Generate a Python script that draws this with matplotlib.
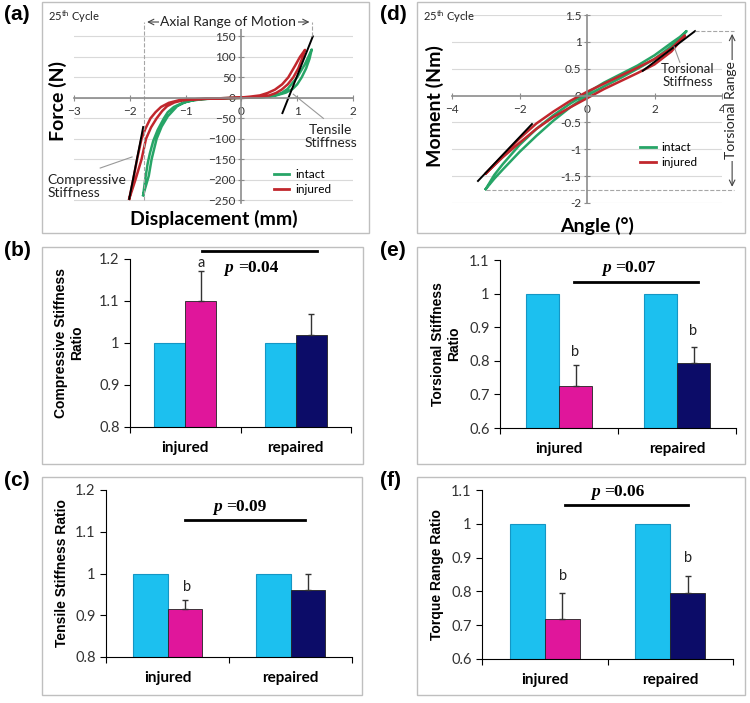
import matplotlib
matplotlib.use("Agg")
import matplotlib.pyplot as plt
from matplotlib.lines import Line2D
from matplotlib.patches import Rectangle

# ---- (a) force vs displacement, 25th cycle ----
disp_intact = [-1.76, -1.66, -1.61, -1.52, -1.43, -1.32, -1.15, -1.0, -0.85, -0.6, -0.3, 0.0,
               0.3, 0.5, 0.65, 0.8, 0.92, 1.0, 1.08, 1.16, 1.22, 1.26,
               1.21, 1.13, 1.05, 1.0, 0.9, 0.83, 0.72, 0.6, 0.4, 0.0, -0.4, -0.7, -0.9,
               -1.05, -1.21, -1.32, -1.39, -1.5, -1.58, -1.64, -1.68, -1.72, -1.76]
force_intact = [-237, -190, -150, -100, -70, -45, -20, -10, -5, -2, -1, 0,
                1, 3, 7, 13, 22, 33, 50, 72, 95, 118,
                103, 80, 62, 50, 34, 22, 12, 6, 2, 0.5, -1, -3, -7,
                -12, -22, -35, -50, -78, -105, -135, -160, -195, -237]
disp_injured = [-2.01, -1.9, -1.79, -1.71, -1.62, -1.52, -1.42, -1.33, -1.2, -1.05, -0.8, -0.4, 0.0,
                0.3, 0.5, 0.62, 0.72, 0.83, 0.93, 1.02, 1.1, 1.14,
                1.05, 0.96, 0.84, 0.73, 0.6, 0.47, 0.33, 0.15, 0.0, -0.4, -0.8, -1.1,
                -1.3, -1.44, -1.54, -1.63, -1.72, -1.79, -1.87, -1.94, -2.01]
force_injured = [-246, -200, -150, -100, -72, -50, -32, -20, -11, -6, -3, -1, 0,
                 2, 6, 12, 20, 33, 50, 72, 100, 117,
                 100, 78, 50, 33, 20, 12, 6, 3, 1, -1, -3, -5,
                 -12, -22, -35, -50, -75, -100, -150, -200, -246]
comp_tangent_x = [-2.01, -1.76]
comp_tangent_y = [-246, -71]
tens_tangent_x = [0.735, 1.28]
tens_tangent_y = [-37, 150]
axial_rom = [-1.74, 1.27]

# ---- (d) moment vs angle, 25th cycle ----
angle_intact = [-3.0, -2.75, -2.5, -2.0, -1.5, -1.0, -0.5, 0.0, 0.5, 1.0, 1.5, 2.0, 2.5, 2.75, 2.95,
                2.75, 2.5, 2.0, 1.5, 1.0, 0.5, 0.0, -0.5, -1.0, -1.5, -2.0, -2.5, -2.75, -3.0]
moment_intact = [-1.74, -1.55, -1.38, -1.05, -0.75, -0.47, -0.22, 0.0, 0.17, 0.33, 0.5, 0.68, 0.92, 1.05, 1.2,
                 1.09, 0.98, 0.75, 0.56, 0.4, 0.24, 0.05, -0.15, -0.37, -0.62, -0.92, -1.28, -1.48, -1.74]
angle_injured = [-3.0, -2.5, -2.0, -1.5, -1.0, -0.5, 0.0, 0.5, 1.0, 1.5, 2.0, 2.5, 2.9,
                 2.5, 2.0, 1.5, 1.0, 0.5, 0.0, -0.5, -1.0, -1.5, -2.0, -2.5, -3.0]
moment_injured = [-1.45, -1.12, -0.8, -0.52, -0.3, -0.1, 0.07, 0.22, 0.37, 0.52, 0.68, 0.88, 1.12,
                  0.82, 0.58, 0.42, 0.27, 0.12, -0.05, -0.22, -0.4, -0.62, -0.88, -1.15, -1.45]
neg_tangent_x = [-3.23, -1.63]
neg_tangent_y = [-1.59, -0.53]
pos_tangent_x = [1.65, 3.2]
pos_tangent_y = [0.46, 1.2]
torque_range = [-1.75, 1.2]

# ---- bar panels (b), (e), (c), (f) ----
groups = ["injured", "repaired"]
baseline = [1.0, 1.0]
comp_ratio = [1.101, 1.019]
comp_err = [0.07, 0.051]
tors_ratio = [0.725, 0.794]
tors_err = [0.062, 0.046]
tens_ratio = [0.914, 0.96]
tens_err = [0.022, 0.04]
torq_ratio = [0.717, 0.794]
torq_err = [0.077, 0.052]

GREEN = "#27A567"
RED = "#C1272D"
CYAN = "#1CC0EF"
MAGENTA = "#E0169B"
NAVY = "#0C0C68"
GRID = "#D9D9D9"
AXIS = "#8C8C8C"

plt.rcParams["font.family"] = ["Lato", "DejaVu Sans"]
plt.rcParams["mathtext.fontset"] = "custom"
plt.rcParams["mathtext.rm"] = "Lato"

W, H = 750, 703
fig = plt.figure(figsize=(W / 100, H / 100), dpi=100)


def px_rect(left, top, right, bottom):
    return [left / W, 1 - bottom / H, (right - left) / W, (bottom - top) / H]


def fig_text(x, y, s, **kw):
    fig.text(x / W, 1 - y / H, s, **kw)


# grey frames around the six panels
for l, t, r, b in [(42, 2, 369, 233), (417, 2, 745, 233), (42, 247, 363, 464),
                   (417, 247, 745, 464), (42, 477, 362, 695), (417, 477, 745, 695)]:
    fig.add_artist(Rectangle((l / W, 1 - b / H), (r - l) / W, (b - t) / H,
                             transform=fig.transFigure, fill=False, ec="#BFBFBF", lw=1))

for lab, x, y in [("(a)", 4, 14), ("(d)", 380, 14), ("(b)", 4, 250),
                  ("(e)", 380, 250), ("(c)", 4, 480), ("(f)", 380, 480)]:
    fig_text(x, y, lab, family="Liberation Sans", weight="bold", fontsize=15, va="center")


def style_curve_axes(ax):
    ax.spines["left"].set_position(("data", 0))
    ax.spines["bottom"].set_position(("data", 0))
    ax.spines["top"].set_visible(False)
    ax.spines["right"].set_visible(False)
    for s in ("left", "bottom"):
        ax.spines[s].set_color(AXIS)
        ax.spines[s].set_linewidth(1.2)
    ax.tick_params(direction="inout", length=4, color=AXIS, labelsize=8.5,
                   labelcolor="#333333", pad=2)
    ax.tick_params(axis="x", pad=4)
    ax.set_facecolor("none")
    ax.set_axisbelow(True)


# ---------------- (a) ----------------
ax = fig.add_axes(px_rect(74, 22, 353, 202.5))
ax.set_xlim(-3, 2)
ax.set_ylim(-255, 185)
style_curve_axes(ax)
ax.set_xticks([-3, -2, -1, 0, 1, 2])
ax.set_yticks(range(-250, 151, 50))
for yv in range(-250, 151, 50):
    ax.axhline(yv, color=GRID, lw=0.8, zorder=0)
ax.plot(disp_intact, force_intact, color=GREEN, lw=1.8)
ax.plot(disp_injured, force_injured, color=RED, lw=1.8)
ax.plot(comp_tangent_x, comp_tangent_y, color="black", lw=1.4)
ax.plot(tens_tangent_x, tens_tangent_y, color="black", lw=1.4)
ax.plot([axial_rom[0]] * 2, [-250, 185], ls="--", color="#A6A6A6", lw=0.8, clip_on=False)
ax.plot([axial_rom[1]] * 2, [150, 185], ls="--", color="#A6A6A6", lw=0.8, clip_on=False)
ax.annotate("", xy=(axial_rom[0], 185), xytext=(axial_rom[1], 185),
            arrowprops=dict(arrowstyle="<->", color="#444444", lw=0.8), annotation_clip=False)
ax.text(sum(axial_rom) / 2, 185, "Axial Range of Motion", ha="center", va="center",
        fontsize=10, color="#222222", bbox=dict(fc="white", ec="none", pad=1))
ax.plot([-2.53, -1.96], [-171, -144], color="#999999", lw=0.8, clip_on=False)
ax.text(-3.48, -215, "Compressive\nStiffness", fontsize=10, va="center", ha="left",
        linespacing=1.1, color="#222222")
ax.plot([0.93, 1.47], [9, -50], color="#999999", lw=0.8)
ax.text(1.6, -93, "Tensile\nStiffness", fontsize=10, va="center", ha="center",
        linespacing=1.1, color="#222222")
ax.legend([Line2D([], [], color=GREEN, lw=2), Line2D([], [], color=RED, lw=2)],
          ["intact", "injured"], loc="upper left", bbox_to_anchor=(0.7, 0.21),
          frameon=False, fontsize=8.5, handlelength=1.3, labelspacing=0.35,
          handletextpad=0.5, borderaxespad=0)
fig_text(48, 17, r"25$^{\rm th}$ Cycle", fontsize=8, va="center", color="#222222")
fig_text(58, 101, "Force (N)", rotation=90, weight="bold", fontsize=14, ha="center", va="center")
fig_text(214, 219, "Displacement (mm)", weight="bold", fontsize=14, ha="center", va="center")

# ---------------- (d) ----------------
ax = fig.add_axes(px_rect(452, 15, 722, 203))
ax.set_xlim(-4, 4)
ax.set_ylim(-2, 1.5)
style_curve_axes(ax)
ax.set_xticks([-4, -2, 0, 2, 4])
ax.set_yticks([-2, -1.5, -1, -0.5, 0, 0.5, 1, 1.5])
ax.set_yticklabels(["-2", "-1.5", "-1", "-0.5", "0", "0.5", "1", "1.5"])
for yv in [-2, -1.5, -1, -0.5, 0.5, 1, 1.5]:
    ax.axhline(yv, color=GRID, lw=0.8, zorder=0)
ax.plot(angle_intact, moment_intact, color=GREEN, lw=1.8)
ax.plot(angle_injured, moment_injured, color=RED, lw=1.8)
ax.plot(neg_tangent_x, neg_tangent_y, color="black", lw=1.4)
ax.plot(pos_tangent_x, pos_tangent_y, color="black", lw=1.4)
ax.plot([3.2, 4.35], [torque_range[1]] * 2, ls="--", color="#A6A6A6", lw=0.8, clip_on=False)
ax.plot([-3.0, 4.35], [torque_range[0]] * 2, ls="--", color="#A6A6A6", lw=0.8, clip_on=False)
ax.annotate("", xy=(4.3, torque_range[0]), xytext=(4.3, torque_range[1]),
            arrowprops=dict(arrowstyle="<->", color="#444444", lw=0.8), annotation_clip=False)
ax.text(4.27, sum(torque_range) / 2, "Torsional Range", rotation=90, ha="center", va="center",
        fontsize=10, color="#222222", bbox=dict(fc="white", ec="none", pad=1))
ax.plot([2.75, 2.58], [0.62, 0.91], color="#999999", lw=0.8)
ax.text(2.98, 0.37, "Torsional\nStiffness", fontsize=9.5, va="center", ha="center",
        linespacing=1.1, color="#222222")
ax.legend([Line2D([], [], color=GREEN, lw=2), Line2D([], [], color=RED, lw=2)],
          ["intact", "injured"], loc="upper left", bbox_to_anchor=(0.68, 0.35),
          frameon=False, fontsize=8.5, handlelength=1.3, labelspacing=0.35,
          handletextpad=0.5, borderaxespad=0)
fig_text(423, 17, r"25$^{\rm th}$ Cycle", fontsize=8, va="center", color="#222222")
fig_text(435, 106, "Moment (Nm)", rotation=90, weight="bold", fontsize=14, ha="center", va="center")
fig_text(597, 226, "Angle (°)", weight="bold", fontsize=14, ha="center", va="center")


# ---------------- bar panels ----------------
def bar_panel(rect, ratio, err, ylim, ylabel, ylabel_x, p_val, p_line, p_y, letters):
    ax = fig.add_axes(px_rect(*rect))
    x = [0, 1]
    w = 0.28
    ax.bar([i - w / 2 for i in x], baseline, w, color=CYAN, ec="#1596C4", lw=0.8)
    ax.bar([i + w / 2 for i in x], ratio, w, color=[MAGENTA, NAVY], ec="#222222", lw=0.6)
    ax.errorbar([i + w / 2 for i in x], ratio, yerr=[[0, 0], err], fmt="none",
                ecolor="#333333", elinewidth=1, capsize=2.5, capthick=1)
    ax.set_xlim(-0.5, 1.5)
    ax.set_ylim(*ylim)
    n = int(round((ylim[1] - ylim[0]) / 0.1))
    yt = [round(ylim[0] + 0.1 * k, 1) for k in range(n + 1)]
    ax.set_yticks(yt)
    ax.set_yticklabels([f"{v:g}" for v in yt])
    ax.set_xticks([-0.5, 0.5, 1.5])
    ax.set_xticklabels([])
    ax.set_xticks(x, minor=True)
    ax.set_xticklabels(groups, minor=True, weight="bold", fontsize=11)
    ax.tick_params(axis="x", which="minor", length=0, pad=10)
    ax.tick_params(axis="x", which="major", length=4, direction="out")
    ax.tick_params(axis="y", length=4, direction="out", labelsize=10.5, labelcolor="#333333")
    ax.spines["top"].set_visible(False)
    ax.spines["right"].set_visible(False)
    ax.set_facecolor("none")
    ax.plot(p_line[:2], [p_line[2]] * 2, color="black", lw=2, clip_on=False)
    ax.text(0.475, p_y, "p ", ha="right", va="center", style="italic", weight="bold",
            family="Liberation Serif", fontsize=12.5)
    ax.text(0.475, p_y, "=" + p_val, ha="left", va="center", weight="bold",
            family="Liberation Serif", fontsize=12.5)
    for lx, ly, s in letters:
        ax.text(lx, ly, s, ha="center", va="center", fontsize=10.5, color="#222222")
    fig_text(ylabel_x, (rect[1] + rect[3]) / 2, ylabel, rotation=90, ha="center", va="center",
             family="Liberation Sans", weight="bold", fontsize=10, linespacing=1.2)
    return ax


bar_panel((130, 259, 351, 427), comp_ratio, comp_err, (0.8, 1.2),
          "Compressive Stiffness\nRatio", 69, "0.04", [0.15, 1.19, 1.219], 1.178,
          [(0.14, 1.19, "a")])
bar_panel((500, 260, 736, 428), tors_ratio, tors_err, (0.6, 1.1),
          "Torsional Stiffness\nRatio", 446, "0.07", [0.127, 1.18, 1.035], 1.077,
          [(0.136, 0.826, "b"), (1.136, 0.89, "b")])
bar_panel((106, 490, 352, 657), tens_ratio, tens_err, (0.8, 1.2),
          "Tensile Stiffness Ratio", 62, "0.09", [0.142, 1.118, 1.128], 1.16,
          [(0.16, 0.968, "b")])
bar_panel((482, 490, 733, 659), torq_ratio, torq_err, (0.6, 1.1),
          "Torque Range Ratio", 437, "0.06", [0.164, 1.14, 1.056], 1.095,
          [(0.148, 0.845, "b"), (1.14, 0.9, "b")])

fig.savefig("out.png", dpi=100, facecolor="white")
